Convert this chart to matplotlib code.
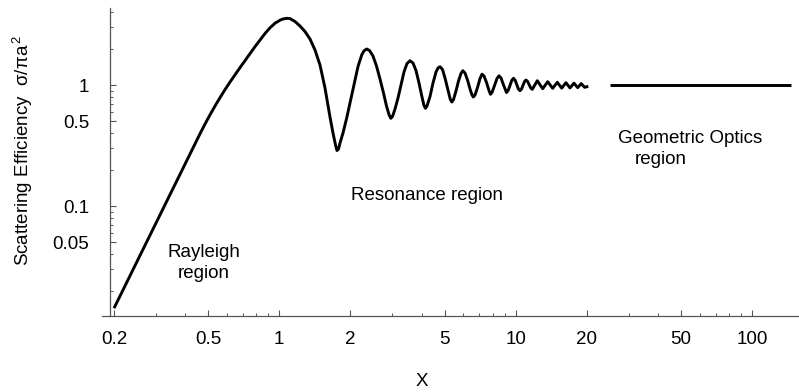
import matplotlib
matplotlib.use('Agg')
import matplotlib.pyplot as plt
from matplotlib.ticker import FixedLocator, FixedFormatter, NullFormatter

plt.rcParams['font.family'] = ['Liberation Sans', 'DejaVu Sans']
plt.rcParams['mathtext.fontset'] = 'custom'
plt.rcParams['mathtext.rm'] = 'Liberation Sans'
plt.rcParams['mathtext.it'] = 'Liberation Sans:italic'

# scattering efficiency of the sphere
x_mie = [0.2, 0.4622, 0.4852, 0.5093, 0.5348, 0.5615, 0.5895, 0.6189, 0.6498, 0.6822,
         0.7162, 0.7519, 0.7895, 0.8288, 0.8700, 0.9135, 0.9590, 1.0068, 1.0367, 1.0747,
         1.1097, 1.1650, 1.2232, 1.2843, 1.3484, 1.4157, 1.4863, 1.5605, 1.6383, 1.6869,
         1.7285, 1.7539, 1.7797, 1.8058, 1.8593, 1.9275, 1.9905, 2.0898, 2.1518, 2.2306,
         2.2811, 2.3418, 2.4065, 2.4900, 2.5763, 2.6656, 2.7581, 2.8398, 2.9097, 2.9612,
         3.0107, 3.0848, 3.1762, 3.2703, 3.3673, 3.4671, 3.5699, 3.6757, 3.7847, 3.8969,
         4.0123, 4.0914, 4.1516, 4.2128, 4.3377, 4.4663, 4.5986, 4.6891, 4.7815, 4.8991,
         5.0196, 5.1684, 5.2803, 5.3633, 5.4528, 5.5870, 5.7245, 5.8655, 5.9693, 6.1000,
         6.2499, 6.4038, 6.5298, 6.6131, 6.7235, 6.8890, 7.0587, 7.1975, 7.3391, 7.5196,
         7.7047, 7.8182, 7.9334, 8.1288, 8.3289, 8.4926, 8.6598, 8.8730, 9.1361, 9.287,
         9.451, 9.618, 9.778, 9.932, 10.093, 10.256, 10.417, 10.570, 10.726, 10.884,
         11.044, 11.217, 11.394, 11.561, 11.743, 12.330, 12.995, 13.644, 14.323, 14.979,
         15.635, 16.304, 16.951, 17.625, 18.271, 18.904, 19.560, 20.255]
q_mie = [0.0143, 0.3959, 0.4761, 0.5671, 0.6705, 0.7866, 0.9162, 1.0587, 1.2165, 1.3925,
         1.5909, 1.8209, 2.0770, 2.3546, 2.6651, 2.9704, 3.2420, 3.4326, 3.5118, 3.5589,
         3.5386, 3.3497, 3.0733, 2.7676, 2.4000, 1.9466, 1.4634, 0.9445, 0.5438, 0.4013,
         0.3193, 0.2875, 0.2958, 0.3317, 0.4013, 0.5337, 0.7099, 1.0999, 1.4223, 1.7697,
         1.9172, 1.9840, 1.9282, 1.7364, 1.4359, 1.1209, 0.8587, 0.6705, 0.5703, 0.5307,
         0.5491, 0.6333, 0.7805, 1.0, 1.2809, 1.5056, 1.5879, 1.5199, 1.3179, 1.0388,
         0.7961, 0.6768, 0.6418, 0.6705, 0.8035, 1.0388, 1.2809, 1.3819, 1.4168, 1.3434,
         1.1427, 0.9092, 0.7660, 0.7237, 0.7587, 0.8920, 1.0791, 1.2447, 1.3126, 1.2562,
         1.0999, 0.9267, 0.8268, 0.7961, 0.8268, 0.9535, 1.1317, 1.2283, 1.1868, 1.0487,
         0.9006, 0.8380, 0.8670, 0.9905, 1.1317, 1.1913, 1.1427, 1.0, 0.8670, 0.9024,
         0.9924, 1.0914, 1.1360, 1.0977, 1.0096, 0.9285, 0.8973, 0.9250, 0.9934, 1.0668,
         1.0999, 1.0709, 1.0067, 0.9463, 0.9215, 1.0852, 0.9320, 1.0648, 0.9391, 1.0527,
         0.9427, 1.0447, 0.9463, 1.0349, 0.9517, 1.0270, 0.9572, 0.9756]

# geometric optics limit
x_geo = [25, 146]
q_geo = [1.0, 1.0]

x_major = [0.2, 0.5, 1, 2, 5, 10, 20, 50, 100]
x_major_labels = ['0.2', '0.5', '1', '2', '5', '10', '20', '50', '100']
x_minor = [0.3, 0.4, 0.6, 0.7, 0.8, 0.9, 3, 4, 6, 7, 8, 9, 30, 40, 60, 70, 80, 90]
y_major = [0.05, 0.1, 0.5, 1]
y_major_labels = ['0.05', '0.1', '0.5', '1']
y_minor = [0.02, 0.03, 0.04, 0.06, 0.07, 0.08, 0.09, 0.2, 0.3, 0.4,
           0.6, 0.7, 0.8, 0.9, 2, 3, 4]

fig = plt.figure(figsize=(7.99, 3.92), dpi=100)
ax = fig.add_axes([0.1277, 0.1946, 0.8723, 0.785])
ax.set_xscale('log')
ax.set_yscale('log')
ax.set_xlim(0.178, 157.6)
ax.set_ylim(0.0124, 4.33)

ax.plot(x_mie, q_mie, color='black', lw=2.1, solid_joinstyle='round', solid_capstyle='butt')
ax.plot(x_geo, q_geo, color='black', lw=2.1, solid_capstyle='butt')

# mathematica-like axes: crossing lines, inward ticks
axc = '#555555'
for s in ['top', 'right']:
    ax.spines[s].set_visible(False)
ax.spines['left'].set_position(('data', 0.1924))
for s in ['left', 'bottom']:
    ax.spines[s].set_color(axc)
    ax.spines[s].set_linewidth(0.9)

ax.xaxis.set_major_locator(FixedLocator(x_major))
ax.xaxis.set_major_formatter(FixedFormatter(x_major_labels))
ax.xaxis.set_minor_locator(FixedLocator(x_minor))
ax.xaxis.set_minor_formatter(NullFormatter())
ax.yaxis.set_major_locator(FixedLocator(y_major))
ax.yaxis.set_major_formatter(FixedFormatter(y_major_labels))
ax.yaxis.set_minor_locator(FixedLocator(y_minor))
ax.yaxis.set_minor_formatter(NullFormatter())

ax.tick_params(axis='x', which='major', direction='in', length=4, width=0.8,
               color=axc, labelsize=13.5, pad=11)
ax.tick_params(axis='y', which='major', direction='in', length=4, width=0.8,
               color=axc, labelsize=13.5, pad=15)
ax.tick_params(which='minor', direction='in', length=2.2, width=0.7, color=axc)

fs = 13.5
ax.text(0.48, 0.0379, 'Rayleigh', ha='center', va='baseline', fontsize=fs)
ax.text(0.48, 0.0254, 'region', ha='center', va='baseline', fontsize=fs)
ax.text(4.23, 0.112, 'Resonance region', ha='center', va='baseline', fontsize=fs)
ax.text(27.1, 0.332, 'Geometric Optics', ha='left', va='baseline', fontsize=fs)
ax.text(31.9, 0.2224, 'region', ha='left', va='baseline', fontsize=fs)

fig.text(0.5275, 0.028, 'X', ha='center', va='center', fontsize=fs)
fig.text(0.0288, 0.617, r'Scattering Efficiency  σ/πa$^{\,2}$', rotation=90,
         ha='center', va='center', fontsize=fs)

fig.savefig('out.png', dpi=100)
